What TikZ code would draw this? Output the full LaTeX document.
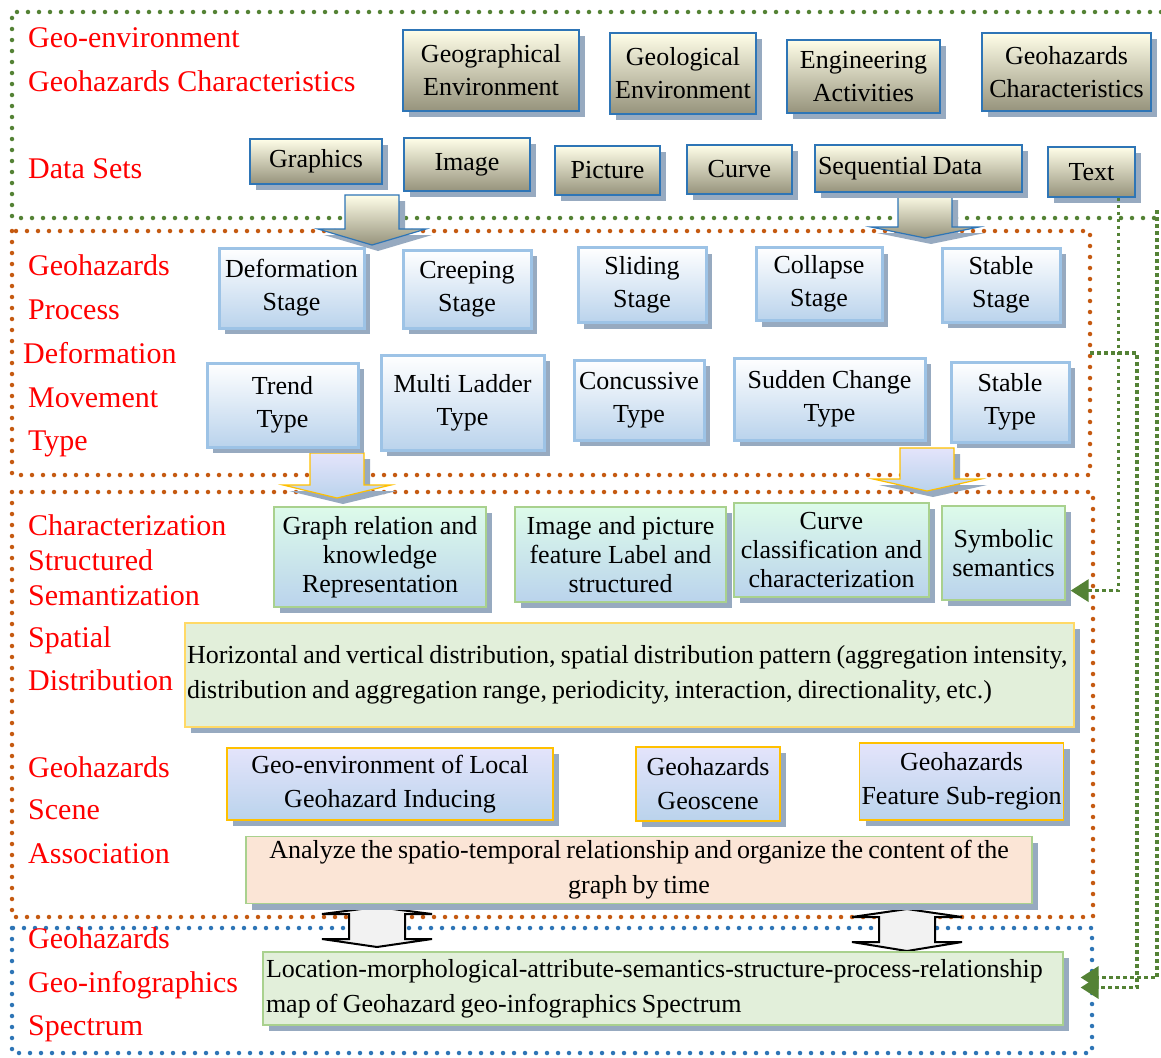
\documentclass[tikz,border=0pt]{standalone}
\usepackage{fontspec}
\setmainfont{Liberation Serif}
\usetikzlibrary{arrows.meta, positioning, calc, shadows}
\definecolor{verdeq}{HTML}{548235}
\definecolor{laranja}{HTML}{C55A11}
\definecolor{azulq}{HTML}{2E75B6}
\definecolor{azulc}{HTML}{9DC3E6}
\definecolor{azulf}{HTML}{BAD3EC}
\definecolor{creme}{HTML}{FFFEE8}
\definecolor{oliva}{HTML}{96937C}
\definecolor{menta}{HTML}{DDFBEA}
\definecolor{lavanda}{HTML}{E4E4FB}
\definecolor{ouro}{HTML}{FFC000}
\definecolor{ouroc}{HTML}{FFD966}
\definecolor{verdec}{HTML}{A9D18E}
\definecolor{verdep}{HTML}{E2EFDA}
\definecolor{pessego}{HTML}{FBE5D6}
\definecolor{cinzac}{HTML}{F2F2F2}
\definecolor{sombra}{HTML}{97AAC0}
\newcommand{\apertado}{\spaceskip=0.2em\relax}
% seta em bloco para baixo: centro, topo, base da ponta, ponta
\newcommand{\setabloco}[5][]{%
  \draw[#1] ({#2-27},#3) -- ({#2+27},#3) -- ({#2+27},#4) -- ({#2+54},#4) -- (#2,#5)
    -- ({#2-54},#4) -- ({#2-27},#4) -- cycle;}
% seta dupla vertical: centro, ponta de cima, base, base, ponta de baixo
\newcommand{\setadupla}[6][]{%
  \draw[#1] (#2,#3) -- ({#2+55},#4) -- ({#2+28},#4) -- ({#2+28},#5) -- ({#2+55},#5)
    -- (#2,#6) -- ({#2-55},#5) -- ({#2-28},#5) -- ({#2-28},#4) -- ({#2-55},#4) -- cycle;}

\begin{document}
\begin{tikzpicture}[
        x=1pt, y=-1pt,
        sombreada/.style={drop shadow={shadow xshift=6pt, shadow yshift=-6pt, fill=sombra, opacity=1}},
        base/.style={sombreada, align=center, inner sep=2pt, font=\fontsize{26}{33}\selectfont},
        tam/.style 2 args={minimum width=#1pt, minimum height=#2pt},
        dado/.style={base, draw=azulq, line width=1.2pt, top color=creme, bottom color=oliva},
        processo/.style={base, draw=azulc, line width=3pt, top color=white, bottom color=azulf},
        caracter/.style={base, draw=verdec, line width=1.2pt, top color=menta, bottom color=azulf, font=\fontsize{26}{29}\selectfont},
        cena/.style={base, draw=ouro, line width=1.2pt, top color=lavanda, bottom color=azulf, font=\fontsize{26}{34}\selectfont},
        painel/.style={base, line width=1.2pt, font=\fontsize{26}{35}\selectfont},
        faixa/.style={draw=#1, line width=4.5pt, line cap=round, dash pattern=on 0pt off 11pt},
        ligacao/.style={draw=verdeq, line width=3.5pt, dash pattern=on 3.5pt off 3.5pt, -{Triangle[length=18pt, width=22pt]}},
        rotulo/.style={text=red, font=\fontsize{30}{36}\selectfont, anchor=base west, inner sep=0pt},
        setad/.style={sombreada, draw=azulq, line width=1.2pt, top color=creme, bottom color=oliva},
        setap/.style={sombreada, draw=ouro, line width=1.2pt, top color=lavanda, bottom color=azulf},
        setadup/.style={draw=black, line width=2pt, fill=cinzac}
    ]
        \useasboundingbox (0,0) rectangle (1161,1057);

        % faixas pontilhadas
        \draw[faixa=verdeq] (1161,12) -- (12,12) -- (12,218) -- (1157,218);
        \draw[faixa=laranja] (12,231) rectangle (1090,475);
        \draw[faixa=laranja] (12,492) rectangle (1093,917);
        \draw[faixa=azulq] (12,928) rectangle (1092,1053);
        \coordinate (verdeSE) at (1157,210);
        \coordinate (laranjaE) at (1090,353);

        % rotulos
        \node[rotulo] (r1) at (28,48) {Geo-environment};
        \node[rotulo] (r2) at (28,92) {Geohazards Characteristics};
        \node[rotulo] (r3) at (28,178) {Data Sets};
        \node[rotulo] (r4) at (28,275) {Geohazards};
        \node[rotulo] (r5) at (28,319) {Process};
        \node[rotulo] (r6) at (23,363) {Deformation};
        \node[rotulo] (r7) at (28,407) {Movement};
        \node[rotulo] (r8) at (28,450) {Type};
        \node[rotulo] (r9) at (28,535) {Characterization};
        \node[rotulo] (r10) at (28,570) {Structured};
        \node[rotulo] (r11) at (28,605) {Semantization};
        \node[rotulo] (r12) at (28,647) {Spatial};
        \node[rotulo] (r13) at (28,690) {Distribution};
        \node[rotulo] (r14) at (28,777) {Geohazards};
        \node[rotulo] (r15) at (28,819) {Scene};
        \node[rotulo] (r16) at (28,863) {Association};
        \node[rotulo] (r17) at (28,948) {Geohazards};
        \node[rotulo] (r18) at (28,992) {Geo-infographics};
        \node[rotulo] (r19) at (28,1035) {Spectrum};

        % setas entre camadas
        \setabloco[setad]{372}{195}{229}{245}
        \setabloco[setad]{925}{194}{227}{238}
        \setabloco[setap]{337}{453}{485}{498}
        \setabloco[setap]{927}{448}{479}{491}
        \setadupla[setadup]{377}{907}{914}{939}{947}
        \setadupla[setadup]{907}{909}{917}{942}{951}

        % ambiente e dados
        \node[dado, tam={176}{81}] (geograf) at (491,70.5) {Geographical\\Environment};
        \node[dado, tam={146}{81}] (geolog) at (683,73.5) {Geological\\Environment};
        \node[dado, tam={153}{73}] (engenh) at (863.5,76.5) {Engineering\\Activities};
        \node[dado, tam={169}{78}] (caract) at (1066.5,72) {Geohazards\\Characteristics};
        \node[dado, tam={132}{45}] (grafico) at (316,161.5) {Graphics};
        \node[dado, tam={126}{53}] (imagem) at (467,164.5) {Image};
        \node[dado, tam={105}{49}] (figura) at (607.5,170.5) {Picture};
        \node[dado, tam={105}{49}] (curva) at (739.5,169.5) {Curve};
        \node[dado, tam={207}{47}, text width=201pt, align=left] (sequencial) at (918.5,168.5) {\apertado Sequential Data};
        \node[dado, tam={87}{50}] (texto) at (1091.5,172) {Text};

        % processo e tipo
        \node[processo, tam={145}{80}] (deform) at (291.5,288) {Deformation\\Stage};
        \node[processo, tam={128}{78}] (rastejo) at (467,289) {Creeping\\Stage};
        \node[processo, tam={128}{75}] (desliz) at (642,285) {Sliding\\Stage};
        \node[processo, tam={126}{73}] (colapso) at (819,284) {Collapse\\Stage};
        \node[processo, tam={118}{74}] (estavel) at (1001,285) {Stable\\Stage};
        \node[processo, tam={151}{84}] (tendencia) at (282.5,405) {Trend\\Type};
        \node[processo, tam={163}{95}] (escada) at (462.5,402.5) {Multi Ladder\\Type};
        \node[processo, tam={130}{80}] (concuss) at (639,400) {Concussive\\Type};
        \node[processo, tam={191}{82}] (subita) at (829.5,399) {Sudden Change\\Type};
        \node[processo, tam={118}{80}] (estavelT) at (1010,402) {Stable\\Type};

        % caracterizacao e distribuicao
        \node[caracter, tam={212}{100}] (grafo) at (380,557) {Graph relation and\\knowledge\\Representation};
        \node[caracter, tam={211}{95}] (imgfig) at (620.5,554.5) {Image and picture\\feature Label and\\structured};
        \node[caracter, tam={195}{94}] (curvacl) at (831.5,550) {Curve\\classification and\\characterization};
        \node[caracter, tam={123}{94}] (simbol) at (1003.5,553) {Symbolic\\semantics};
        \node[painel, draw=ouroc, fill=verdep, tam={889}{104}, text width=885pt, align=left] (distrib) at (629.5,675)
            {\apertado Horizontal and vertical distribution, spatial distribution pattern (aggregation intensity,\\distribution and aggregation range, periodicity, interaction, directionality, etc.)};

        % cena
        \node[cena, tam={326}{72}] (local) at (390,784) {Geo-environment of Local\\Geohazard Inducing};
        \node[cena, tam={144}{74}] (geocena) at (708,784) {Geohazards\\Geoscene};
        \node[cena, tam={203}{77}] (subreg) at (961.5,781.5) {Geohazards\\Feature Sub-region};
        \node[painel, draw=verdec, fill=pessego, tam={786}{67}, text width=780pt] (analisa) at (639,870)
            {\apertado Analyze the spatio-temporal relationship and organize the content of the\\graph by time};

        % espectro
        \node[painel, draw=verdec, fill=verdep, tam={800}{73}, text width=794pt, align=left] (espectro) at (663,988.5)
            {\apertado Location-morphological-attribute-semantics-structure-process-relationship\\map of Geohazard geo-infographics Spectrum};

        % ligacoes pontilhadas
        \draw[ligacao] ($(texto.south east)+(-17,0)$) |- ($(simbol.south east)+(5,-10)$);
        \draw[ligacao] (verdeSE) |- ($(espectro.east)+(17,-11)$);
        \draw[ligacao] (laranjaE) -- ++(47,0) |- ($(espectro.east)+(17,-1)$);
    \end{tikzpicture}
\end{document}
